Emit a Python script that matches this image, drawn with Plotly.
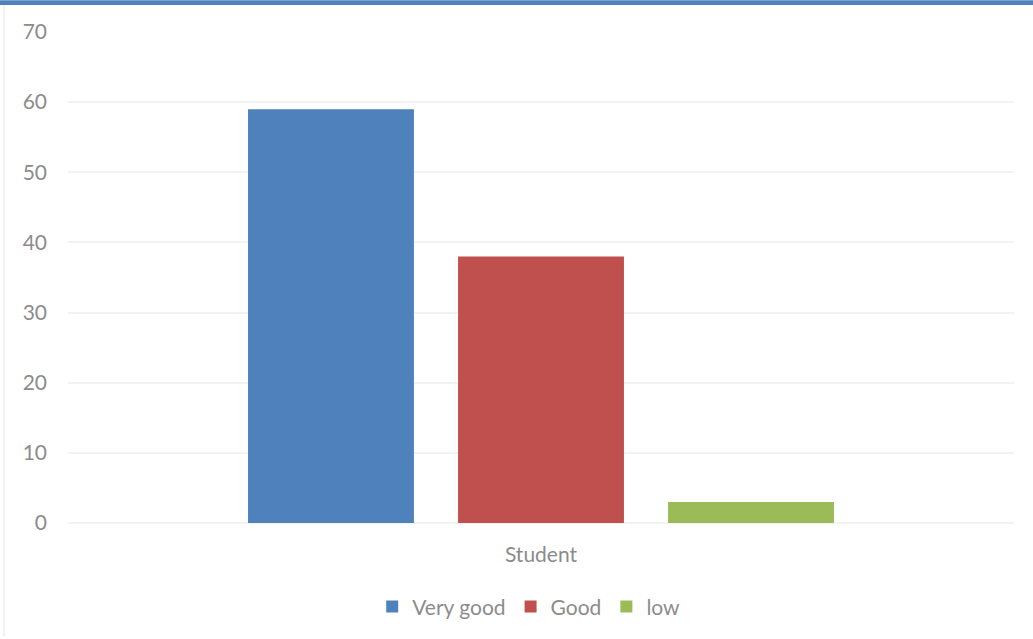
import plotly.graph_objects as go

categories = ["Student"]
series_names = ["Very good", "Good", "low"]
very_good = [59]
good = [38]
low = [3]
colors = ["#4f81bd", "#c0504d", "#9bbb59"]
y_ticks = [0, 10, 20, 30, 40, 50, 60, 70]

fig = go.Figure()
for name, vals, col in zip(series_names, [very_good, good, low], colors):
    fig.add_trace(go.Bar(x=categories, y=vals, name=name, marker=dict(color=col, line=dict(width=0))))

font_fam = "Lato, 'Open Sans', sans-serif"
grey = "#8c8c8c"
PH = 493
fig.update_layout(
    width=1033, height=639,
    paper_bgcolor="white", plot_bgcolor="white",
    margin=dict(l=68, r=19, t=32, b=114),
    barmode="group", bargap=0.334, bargroupgap=0.21,
    font=dict(family=font_fam, color=grey, size=21),
    showlegend=True,
    legend=dict(orientation="h", x=0.487, xanchor="center", y=-0.171, yanchor="middle",
                font=dict(size=21, color=grey), itemwidth=30, traceorder="normal"),
    xaxis=dict(showgrid=False, showline=False, ticks="", tickfont=dict(size=21, color=grey),
               ticklabelstandoff=17),
    yaxis=dict(range=[0, 70], tickvals=y_ticks, showgrid=True, gridcolor="#f3f3f3", gridwidth=1.5,
               zeroline=True, zerolinecolor="#f3f3f3", zerolinewidth=1.5, showline=False, ticks="",
               tickfont=dict(size=21, color=grey), ticklabelstandoff=20),
    shapes=[
        dict(type="rect", xref="paper", yref="paper", x0=-68/946, x1=1+19/946,
             y0=1+(32-5)/PH, y1=1+32/PH, fillcolor="#4f81bd", line=dict(width=0), layer="above"),
        dict(type="line", xref="paper", yref="paper", x0=-64/946, x1=-64/946,
             y0=-114/PH, y1=1+(32-5)/PH, line=dict(color="#eeeeee", width=1.5)),
    ],
)
fig.write_html("out.html", config={"displayModeBar": False},
               post_script="document.body.style.margin='0';document.body.style.overflow='hidden';")
